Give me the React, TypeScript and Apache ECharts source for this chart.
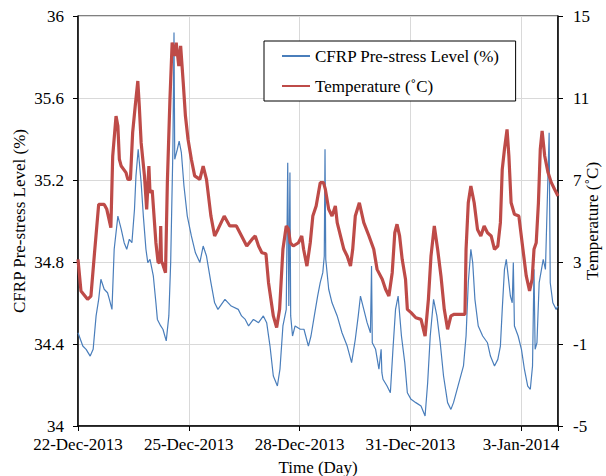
import React, { useEffect, useRef } from "react";
import * as echarts from "echarts";

// x = days since 22-Dec-2013 00:00
const dateTickLabels = ["22-Dec-2013", "25-Dec-2013", "28-Dec-2013", "31-Dec-2013", "3-Jan-2014"];

const strainPoints: [number, number][] = [
  [0.0, 34.455], [0.13, 34.39], [0.22, 34.374], [0.33, 34.341], [0.41, 34.374], [0.49, 34.537],
  [0.56, 34.618], [0.62, 34.716], [0.71, 34.667], [0.8, 34.65], [0.85, 34.618], [0.92, 34.569],
  [0.98, 34.862], [1.08, 35.024], [1.17, 34.96], [1.25, 34.894], [1.32, 34.862], [1.39, 34.911],
  [1.46, 34.894], [1.53, 35.057], [1.57, 35.22], [1.63, 35.35], [1.71, 35.187], [1.77, 35.024],
  [1.84, 34.862], [1.89, 34.797], [1.95, 34.813], [2.04, 34.732], [2.11, 34.601], [2.15, 34.52],
  [2.24, 34.488], [2.3, 34.472], [2.39, 34.415], [2.46, 34.537], [2.51, 34.797], [2.57, 35.35],
  [2.6, 35.919], [2.62, 35.301], [2.69, 35.35], [2.74, 35.39], [2.8, 35.333], [2.87, 35.171],
  [2.96, 35.024], [3.07, 34.927], [3.18, 34.845], [3.3, 34.797], [3.39, 34.878], [3.48, 34.829],
  [3.6, 34.699], [3.7, 34.601], [3.79, 34.569], [3.98, 34.618], [4.15, 34.585], [4.34, 34.569],
  [4.43, 34.537], [4.53, 34.52], [4.62, 34.488], [4.75, 34.52], [4.89, 34.504], [5.02, 34.537],
  [5.11, 34.504], [5.2, 34.39], [5.29, 34.244], [5.4, 34.195], [5.47, 34.277], [5.55, 34.488],
  [5.64, 34.569], [5.68, 35.284], [5.71, 34.585], [5.74, 35.236], [5.76, 34.537], [5.81, 34.439],
  [5.88, 34.488], [6.02, 34.472], [6.12, 34.472], [6.24, 34.39], [6.31, 34.439], [6.4, 34.537],
  [6.49, 34.634], [6.56, 34.699], [6.63, 34.748], [6.67, 34.829], [6.69, 35.35], [6.71, 34.813],
  [6.79, 34.667], [6.88, 34.601], [7.02, 34.537], [7.15, 34.455], [7.29, 34.39], [7.41, 34.309],
  [7.51, 34.423], [7.59, 34.537], [7.65, 34.634], [7.74, 34.569], [7.83, 34.504], [7.92, 34.455],
  [7.95, 34.78], [7.97, 34.406], [8.06, 34.374], [8.15, 34.277], [8.21, 34.374], [8.23, 34.26],
  [8.26, 34.228], [8.37, 34.195], [8.46, 34.162], [8.53, 34.374], [8.6, 34.569], [8.67, 34.634],
  [8.76, 34.439], [8.85, 34.309], [8.92, 34.162], [9.02, 34.13], [9.15, 34.114], [9.29, 34.098],
  [9.4, 34.049], [9.47, 34.211], [9.54, 34.439], [9.63, 34.618], [9.72, 34.537], [9.81, 34.406],
  [9.9, 34.244], [10.01, 34.114], [10.1, 34.081], [10.17, 34.114], [10.44, 34.293], [10.51, 34.439],
  [10.57, 34.699], [10.64, 34.862], [10.69, 34.797], [10.75, 34.618], [10.84, 34.488], [10.96, 34.439],
  [11.09, 34.406], [11.17, 34.341], [11.28, 34.293], [11.37, 34.325], [11.44, 34.39], [11.49, 34.569],
  [11.55, 34.764], [11.6, 34.813], [11.65, 34.732], [11.71, 34.634], [11.76, 34.601], [11.79, 34.797],
  [11.82, 34.488], [11.92, 34.439], [12.01, 34.374], [12.09, 34.277], [12.18, 34.195], [12.25, 34.179],
  [12.31, 34.293], [12.35, 34.764], [12.38, 34.374], [12.43, 34.406], [12.49, 34.699], [12.6, 34.813],
  [12.66, 34.764], [12.76, 35.431], [12.79, 34.699], [12.86, 34.601], [12.95, 34.569], [13.0, 34.585],
];

const temperaturePoints: [number, number][] = [
  [0.0, 3.13], [0.08, 1.59], [0.26, 1.18], [0.35, 1.34], [0.44, 3.29], [0.56, 5.81], [0.71, 5.81],
  [0.78, 5.57], [0.89, 4.67], [0.94, 8.17], [1.03, 10.12], [1.08, 9.63], [1.12, 8.01], [1.17, 7.68],
  [1.3, 7.36], [1.35, 7.03], [1.42, 7.03], [1.48, 9.31], [1.55, 10.61], [1.62, 11.83], [1.66, 10.6],
  [1.71, 8.82], [1.8, 7.2], [1.86, 5.57], [1.92, 7.68], [1.95, 6.38], [2.01, 6.5], [2.11, 3.94],
  [2.17, 2.97], [2.22, 3.0], [2.24, 4.76], [2.26, 3.0], [2.28, 2.97], [2.37, 2.48], [2.42, 6.87],
  [2.49, 10.94], [2.55, 13.7], [2.62, 13.05], [2.66, 13.7], [2.73, 12.56], [2.78, 13.54], [2.85, 11.75],
  [2.91, 10.12], [2.98, 8.99], [3.07, 8.01], [3.16, 7.2], [3.3, 7.03], [3.39, 7.68], [3.48, 7.03],
  [3.6, 5.24], [3.7, 4.27], [3.79, 4.59], [3.96, 5.24], [4.11, 4.76], [4.29, 4.76], [4.43, 4.27],
  [4.57, 3.78], [4.71, 4.1], [4.8, 4.27], [4.89, 3.78], [4.98, 3.45], [5.09, 3.4], [5.16, 1.99],
  [5.29, 0.37], [5.38, -0.2], [5.46, 0.69], [5.55, 3.62], [5.64, 4.76], [5.7, 4.6], [5.75, 3.94],
  [5.83, 3.78], [5.97, 3.94], [6.06, 4.27], [6.11, 3.62], [6.2, 2.8], [6.29, 3.94], [6.36, 5.24],
  [6.45, 5.73], [6.56, 6.87], [6.65, 6.87], [6.7, 6.54], [6.79, 5.57], [6.88, 5.24], [6.97, 5.73],
  [7.02, 4.92], [7.2, 3.62], [7.29, 3.29], [7.38, 2.8], [7.44, 3.62], [7.51, 5.24], [7.62, 5.89],
  [7.74, 4.92], [7.88, 4.27], [8.01, 3.62], [8.1, 2.64], [8.24, 2.16], [8.33, 1.67], [8.42, 1.34],
  [8.51, 2.48], [8.58, 4.43], [8.64, 4.84], [8.71, 4.27], [8.78, 3.13], [8.87, 2.16], [8.92, 0.69],
  [9.02, 0.53], [9.15, 0.28], [9.29, 0.2], [9.4, -0.61], [9.49, 1.18], [9.56, 3.29], [9.65, 4.76],
  [9.74, 3.62], [9.83, 2.32], [9.92, 0.69], [10.01, -0.28], [10.1, 0.37], [10.19, 0.45], [10.48, 0.45],
  [10.51, 3.62], [10.57, 5.89], [10.64, 6.71], [10.73, 5.89], [10.82, 4.59], [10.91, 4.27], [11.0, 4.76],
  [11.09, 4.43], [11.19, 4.27], [11.28, 3.62], [11.37, 3.78], [11.44, 4.92], [11.49, 7.52], [11.55, 8.5],
  [11.62, 9.47], [11.67, 8.17], [11.73, 5.89], [11.82, 5.33], [11.94, 5.24], [12.05, 3.62], [12.14, 2.32],
  [12.23, 1.59], [12.3, 2.16], [12.35, 3.62], [12.41, 3.94], [12.47, 5.89], [12.52, 8.5], [12.57, 9.39],
  [12.64, 8.17], [12.73, 7.36], [12.82, 6.87], [12.91, 6.54], [13.0, 6.22],
];

const FONT = "'Liberation Serif', 'Times New Roman', serif";
const FS = 17;
const BLUE = "#4a7ebb";
const RED = "#be4b48";

export default function App() {
  const ref = useRef<HTMLDivElement>(null);
  useEffect(() => {
    if (!ref.current) return;
    const chart = echarts.init(ref.current, undefined, { renderer: "svg" });
    const txt = { fontFamily: FONT, fontSize: FS, color: "#000" };
    chart.setOption({
      animation: false,
      backgroundColor: "#fff",
      textStyle: { fontFamily: FONT },
      grid: {
        left: 78, right: 48, top: 16, bottom: 50,
        show: true, borderColor: "#000", borderWidth: 1,
        containLabel: false,
        outerBoundsMode: "none",
      },
      legend: {
        orient: "vertical",
        left: 264,
        top: 41,
        padding: [5, 16, 5, 17],
        itemWidth: 28,
        itemHeight: 20,
        itemGap: 10,
        borderColor: "#000",
        borderWidth: 1,
        backgroundColor: "#fff",
        itemStyle: { opacity: 0 },
        textStyle: { ...txt, lineHeight: 20 },
        data: ["CFRP Pre-stress Level (%)", "Temperature (˚C)"],
      },
      xAxis: {
        type: "value",
        min: 0,
        max: 13,
        interval: 3,
        name: "Time (Day)",
        nameLocation: "middle",
        nameGap: 33,
        nameMoveOverlap: false,
        nameTextStyle: txt,
        axisLine: { show: true, onZero: false, lineStyle: { color: "#000", width: 1.5 } },
        axisTick: { show: true, length: 5, lineStyle: { color: "#000" } },
        axisLabel: {
          ...txt,
          margin: 10,
          formatter: (v: number) => {
            const i = Math.round(v / 3);
            return Math.abs(v - i * 3) < 1e-6 && dateTickLabels[i] ? dateTickLabels[i] : "";
          },
        },
        splitLine: { show: true, lineStyle: { color: "#d9d9d9", width: 1 } },
      },
      yAxis: [
        {
          type: "value",
          min: 34,
          max: 36,
          interval: 0.4,
          position: "left",
          name: "CFRP Pre-stress Level (%)",
          nameLocation: "middle",
          nameGap: 50,
          nameMoveOverlap: false,
          nameTextStyle: txt,
          axisLine: { show: true, onZero: false, lineStyle: { color: "#000", width: 1.5 } },
          axisTick: { show: true, length: 5, lineStyle: { color: "#000" } },
          axisLabel: { ...txt, margin: 14, formatter: (v: number) => String(+v.toFixed(1)) },
          splitLine: { show: true, lineStyle: { color: "#d9d9d9", width: 1 } },
        },
        {
          type: "value",
          min: -5,
          max: 15,
          alignTicks: true,
          position: "right",
          name: "Temperature (˚C)",
          nameLocation: "middle",
          nameGap: 26,
          nameRotate: 90,
          nameMoveOverlap: false,
          nameTextStyle: txt,
          axisLine: { show: true, onZero: false, lineStyle: { color: "#000", width: 1.5 } },
          axisTick: { show: true, length: 5, lineStyle: { color: "#000" } },
          axisLabel: { ...txt, margin: 15, formatter: (v: number) => String(Math.round(v)) },
          splitLine: { show: false },
        },
      ],
      series: [
        {
          type: "line",
          name: "CFRP Pre-stress Level (%)",
          data: strainPoints,
          yAxisIndex: 0,
          symbol: "none",
          showSymbol: false,
          lineStyle: { color: BLUE, width: 1.2 },
          itemStyle: { color: BLUE },
        },
        {
          type: "line",
          name: "Temperature (˚C)",
          data: temperaturePoints,
          yAxisIndex: 1,
          symbol: "none",
          showSymbol: false,
          lineStyle: { color: RED, width: 3.2 },
          itemStyle: { color: RED },
        },
      ],
    });
    return () => chart.dispose();
  }, []);
  return (
    <div
      ref={ref}
      style={{ position: "fixed", left: 0, top: 0, width: 606, height: 476, background: "#fff" }}
    />
  );
}
